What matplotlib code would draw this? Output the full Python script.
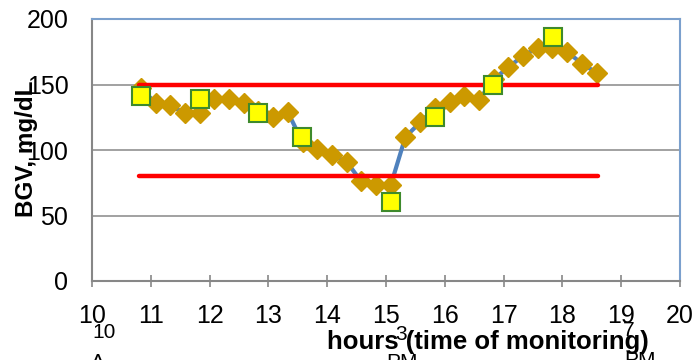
import matplotlib
matplotlib.use('Agg')
import matplotlib.pyplot as plt

plt.rcParams['font.family'] = ['Liberation Sans', 'DejaVu Sans']

# ============================================================
# Data: CGM readings every 15 min, fingerstick checks, target band
# ============================================================

cgm_hours = [10.83, 11.08, 11.33, 11.58, 11.83, 12.08, 12.33, 12.58,
             12.83, 13.08, 13.33, 13.58, 13.83, 14.08, 14.33, 14.58,
             14.83, 15.08, 15.33, 15.58, 15.83, 16.08, 16.33, 16.58,
             16.83, 17.08, 17.33, 17.58, 17.83, 18.08, 18.33, 18.58]
cgm_bgv = [147, 136, 134, 128, 128, 139, 139, 136,
           130, 125, 129, 106, 101, 96, 91, 76,
           73, 73, 110, 121, 132, 137, 141, 138,
           154, 163, 172, 178, 178, 175, 166, 159]

smbg_hours = [10.83, 11.84, 12.83, 13.57, 15.08, 15.83, 16.82, 17.84]
smbg_bgv = [141, 139, 128, 110, 60, 125, 150, 186]

target_hours = [10.8, 18.6]
target_high = [150, 150]
target_low = [80, 80]

x_ticks = list(range(10, 21))
y_ticks = [0, 50, 100, 150, 200]

# ============================================================
# Plot
# ============================================================

fig = plt.figure(figsize=(7, 3.6), dpi=100)
ax = fig.add_axes([92 / 700, 1 - 281 / 360, 588 / 700, 262 / 360])

grid_gray = '#9a9a9a'
for v in y_ticks[1:-1]:
    ax.axhline(v, color=grid_gray, linewidth=1.3, zorder=1)

# CGM trace: blue line with gold diamonds
ax.plot(cgm_hours, cgm_bgv, color='#4F81BD', linewidth=3, zorder=2)
ax.plot(cgm_hours, cgm_bgv, linestyle='none', marker='D', markersize=10.5,
        markerfacecolor='#CC9900', markeredgecolor='#CC9900', zorder=3)

# target range limits
for lim in (target_high, target_low):
    ax.plot(target_hours, lim, color='#FF0000', linewidth=3.2,
            solid_capstyle='round', zorder=4)

# fingerstick readings
ax.plot(smbg_hours, smbg_bgv, linestyle='none', marker='s', markersize=13,
        markerfacecolor='#FFFF00', markeredgecolor='#3E8A2C',
        markeredgewidth=1.5, zorder=5)

ax.set_xlim(10, 20)
ax.set_ylim(0, 200)
ax.set_xticks(x_ticks)
ax.set_yticks(y_ticks)
ax.tick_params(axis='x', direction='inout', length=9, width=1.2,
               color='#878787', labelsize=18, pad=12)
ax.tick_params(axis='y', length=0, labelsize=18, pad=17)

for side in ('left', 'bottom'):
    ax.spines[side].set_color('#878787')
    ax.spines[side].set_linewidth(1.5)
for side in ('top', 'right'):
    ax.spines[side].set_color('#7BA0CD')
    ax.spines[side].set_linewidth(1.5)

# axis titles
fig.text(488 / 700, 1 - 342 / 360, 'hours (time of monitoring)',
         fontsize=18.5, fontweight='bold', ha='center', va='center')
fig.text(27 / 700, 1 - 149 / 360, 'BGV, mg/dL', fontsize=17.5,
         fontweight='bold', rotation=90, ha='center', va='center')

# clock-time hints under the hour axis
fig.text(104 / 700, 1 - 333 / 360, '10', fontsize=15, ha='center', va='center')
fig.text(98 / 700, 1 - 362 / 360, 'A', fontsize=15, ha='center', va='center')
fig.text(401 / 700, 1 - 335 / 360, '3', fontsize=15, ha='center', va='center')
fig.text(402 / 700, 1 - 363 / 360, 'PM', fontsize=15, ha='center', va='center')
fig.text(629 / 700, 1 - 331 / 360, '7', fontsize=15, ha='center', va='center')
fig.text(640 / 700, 1 - 361 / 360, 'PM', fontsize=15, ha='center', va='center')

fig.savefig('out.png', dpi=100)
